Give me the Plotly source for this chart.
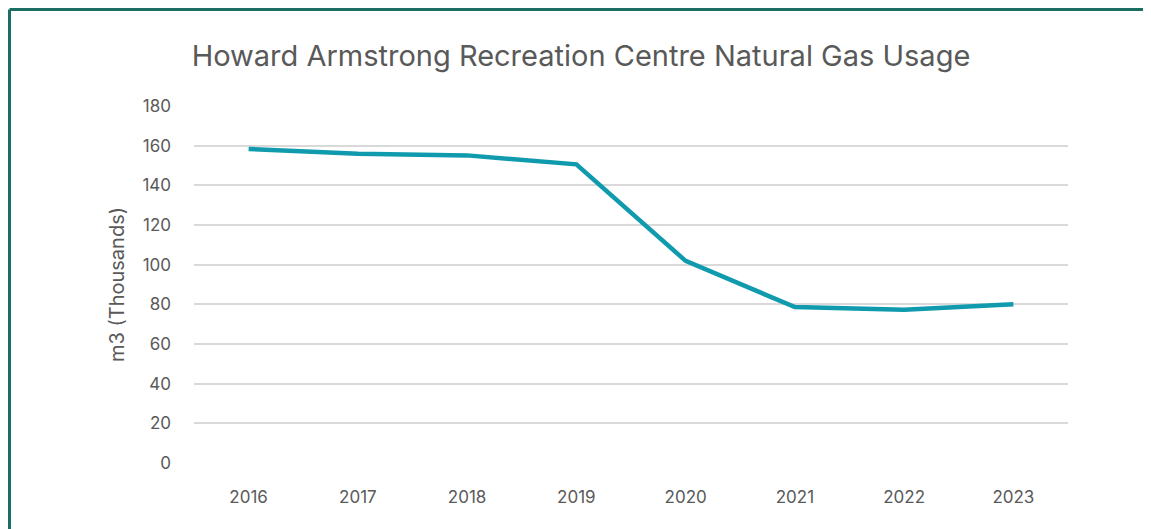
import plotly.graph_objects as go

anos = ['2016', '2017', '2018', '2019', '2020', '2021', '2022', '2023']
consumo = [158.3, 155.9, 155.1, 150.6, 101.9, 78.6, 77.3, 80.1]
y_ticks = [0, 20, 40, 60, 80, 100, 120, 140, 160, 180]

cinza = '#595959'
fonte = 'Inter, Lato, sans-serif'

fig = go.Figure(data=go.Scatter(x=anos, y=consumo, mode='lines',
                                line=dict(color='#0f9aae', width=4.5),
                                hoverinfo='x+y'))

fig.update_layout(
    width=1143, height=521,
    paper_bgcolor='white', plot_bgcolor='white',
    margin=dict(l=186, r=83, t=98, b=66),
    showlegend=False,
    font=dict(family=fonte, color=cinza, size=17),
    title=dict(text='Howard Armstrong Recreation Centre Natural Gas Usage',
               x=0.5013, xanchor='center', y=0.908, yanchor='middle',
               font=dict(size=29, color=cinza, family=fonte)),
)
fig.update_xaxes(type='category', range=[-0.5, 7.5], showgrid=False,
                 showline=False, zeroline=False, ticks='',
                 ticklabelstandoff=22,
                 tickfont=dict(size=17, color=cinza))
fig.update_yaxes(range=[0, 180], tickvals=y_ticks, showgrid=True,
                 gridcolor='#d9d9d9', gridwidth=2, zeroline=False,
                 showline=False, ticks='', ticklabelstandoff=22,
                 title=dict(text='m3 (Thousands)', standoff=12,
                            font=dict(size=20, color=cinza)),
                 tickfont=dict(size=17, color=cinza))

# moldura verde (topo e esquerda)
borda = '#1a6e62'
fig.add_shape(type='line', xref='paper', yref='paper', x0=-0.2111, x1=1.2,
              y0=1.2703, y1=1.2703, line=dict(color=borda, width=3))
fig.add_shape(type='line', xref='paper', yref='paper', x0=-0.2111, x1=-0.2111,
              y0=1.2703, y1=-0.3, line=dict(color=borda, width=3))

fig.write_html('out.html')
